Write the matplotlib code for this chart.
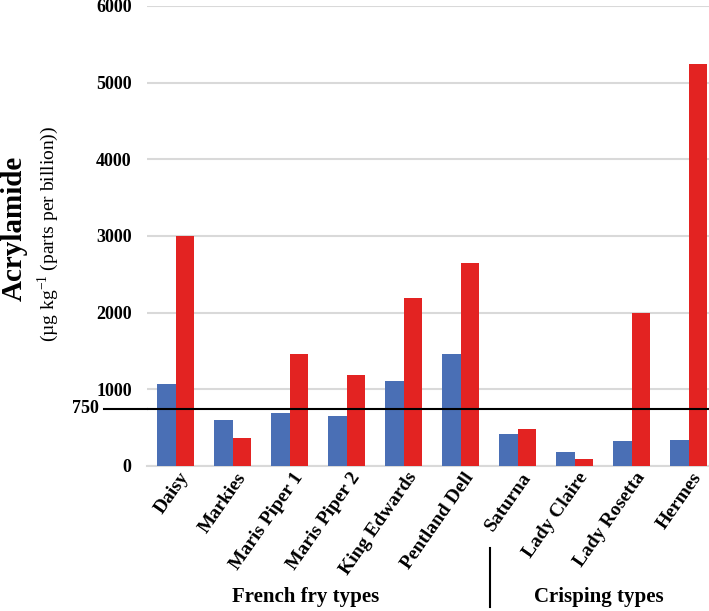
import numpy as np
import matplotlib
matplotlib.use('Agg')
import matplotlib.pyplot as plt
import matplotlib.transforms as mtransforms

# acrylamide values (ug/kg)
varieties = ['Daisy', 'Markies', 'Maris Piper 1', 'Maris Piper 2', 'King Edwards',
             'Pentland Dell', 'Saturna', 'Lady Claire', 'Lady Rosetta', 'Hermes']
blue_vals = [1065, 605, 695, 650, 1115, 1460, 415, 185, 325, 345]
red_vals = [3000, 370, 1460, 1185, 2185, 2645, 485, 90, 2000, 5240]
yticks = [0, 1000, 2000, 3000, 4000, 5000, 6000]
limit = 750

plt.rcParams['font.family'] = ['Liberation Serif', 'DejaVu Serif']

fig = plt.figure(figsize=(7.09, 6.11), dpi=100)
# axes placed in pixel terms to match reference
ax = fig.add_axes([147 / 709, 145 / 611, 570 / 709, 460 / 611])

x = np.arange(len(varieties))
w = 0.33
ax.bar(x - w / 2, blue_vals, w, color='#4A6FB5', zorder=3)
ax.bar(x + w / 2, red_vals, w, color='#E32322', zorder=3)

ax.set_ylim(0, 6000)
ax.set_xlim(-0.5, 9.5)
ax.set_yticks(yticks)
ax.set_yticklabels([str(t) for t in yticks], fontsize=13, fontweight='bold')
ax.yaxis.grid(True, color='#d9d9d9', linewidth=1.5, zorder=0)
ax.tick_params(axis='y', length=0, pad=11)
ax.tick_params(axis='x', length=0, pad=6)
for s in ['top', 'right', 'left']:
    ax.spines[s].set_visible(False)
ax.spines['bottom'].set_color('#d9d9d9')
ax.spines['bottom'].set_linewidth(1.5)

ax.set_xticks(x)
ax.set_xticklabels(varieties, rotation=55, ha='right', va='center', rotation_mode='anchor',
                   fontsize=14, fontweight='bold')
shift = mtransforms.ScaledTranslation(10 / 100, 0, fig.dpi_scale_trans)
for lab in ax.get_xticklabels():
    lab.set_transform(lab.get_transform() + shift)

# 750 limit line, extends left past the axis
ax.axhline(limit, color='black', linewidth=1.5, zorder=4)
ax.plot([-1.25, -0.5], [limit, limit], color='black', linewidth=1.5, clip_on=False)
ax.text(-1.34, limit, str(limit), ha='right', va='center', fontsize=13, fontweight='bold')

fig.text(14 / 709, 1 - 228 / 611, 'Acrylamide', rotation=90, ha='center', va='center',
         fontsize=21, fontweight='bold')
fig.text(48 / 709, 1 - 234 / 611, r'(µg kg$^{\mathregular{-1}}$ (parts per billion))', rotation=90,
         ha='center', va='center', fontsize=14)

fig.text(306 / 709, 1 - 597 / 611, 'French fry types', ha='center', va='center',
         fontsize=15, fontweight='bold')
fig.text(599 / 709, 1 - 597 / 611, 'Crisping types', ha='center', va='center',
         fontsize=15, fontweight='bold')
fig.add_artist(plt.Line2D([490 / 709, 490 / 709], [1 - 548 / 611, 1 - 607 / 611],
                          color='black', linewidth=1.5))

fig.savefig('out.png', dpi=100)
